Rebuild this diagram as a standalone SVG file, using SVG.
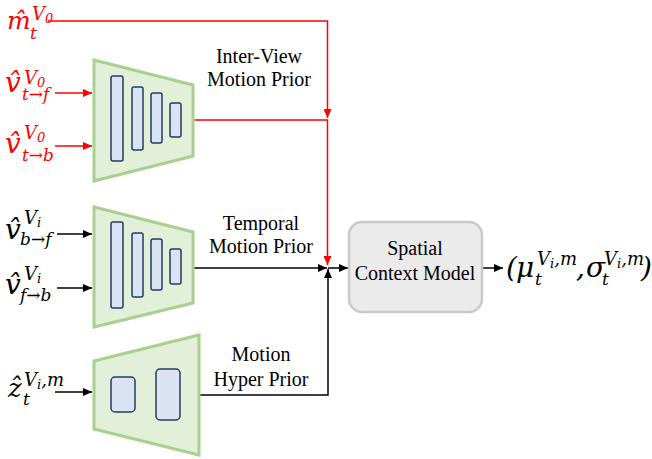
<svg xmlns="http://www.w3.org/2000/svg" width="652" height="459" viewBox="0 0 652 459">
<style>
.trap{fill:#e2efd9;stroke:#a9d08e;stroke-width:3;stroke-linejoin:miter}
.layer{fill:#dae3f3;stroke:#243b5e;stroke-width:1.5}
.lbl{font-family:"Liberation Serif","Times New Roman",serif;font-size:20px;fill:#000;text-anchor:middle}
.m{font-family:"DejaVu Serif",serif;font-style:italic}
.big{font-size:28px}
.sup{font-size:18px}
.sub{font-size:17px}
.tiny{font-size:13px}
.red{fill:#ff0000}
.blk{fill:#000}
.ln{fill:none;stroke-width:1.5}
.lr{stroke:#ff0000}
.lb{stroke:#000}
</style>
<defs>
<marker id="ab" markerUnits="userSpaceOnUse" markerWidth="9" markerHeight="8" refX="9" refY="4" orient="auto"><path d="M0,0 L9,4 L0,8 z" fill="#000"/></marker>
<marker id="ar" markerUnits="userSpaceOnUse" markerWidth="9" markerHeight="8" refX="9" refY="4" orient="auto"><path d="M0,0 L9,4 L0,8 z" fill="#ff0000"/></marker>
</defs>

<g id="connectors">
<path class="ln lr" d="M48,21 H327.5 V118" marker-end="url(#ar)"/>
<path class="ln lr" d="M193,120 H327.5 V265" marker-end="url(#ar)"/>
<path class="ln lr" d="M55,93 H92" marker-end="url(#ar)"/>
<path class="ln lr" d="M55,146 H92" marker-end="url(#ar)"/>
<path class="ln lb" d="M57,234 H92" marker-end="url(#ab)"/>
<path class="ln lb" d="M57,288 H92" marker-end="url(#ab)"/>
<path class="ln lb" d="M55,392 H92" marker-end="url(#ab)"/>
<path class="ln lb" d="M193,268 H327" marker-end="url(#ab)"/>
<path class="ln lb" d="M199,395 H328 V269" marker-end="url(#ab)"/>
<path class="ln lb" d="M328,268 H348" marker-end="url(#ab)"/>
<path class="ln lb" d="M482,268 H503" marker-end="url(#ab)"/>
</g>

<g id="inter-view-prior">
<polygon class="trap" points="94,60 193,85 193,156 94,181"/>
<rect class="layer" x="111" y="76" width="12" height="85" rx="2"/>
<rect class="layer" x="132" y="87" width="11" height="63" rx="2"/>
<rect class="layer" x="151" y="93" width="11" height="50" rx="2"/>
<rect class="layer" x="170" y="103" width="11" height="34" rx="2"/>
<text class="lbl" x="259" y="63">Inter-View</text>
<text class="lbl" x="259" y="86">Motion Prior</text>
</g>

<g id="temporal-prior">
<polygon class="trap" points="94,207 193,232 193,303 94,327"/>
<rect class="layer" x="111" y="222" width="12" height="86" rx="2"/>
<rect class="layer" x="132" y="233" width="11" height="64" rx="2"/>
<rect class="layer" x="151" y="239" width="11" height="51" rx="2"/>
<rect class="layer" x="170" y="249" width="11" height="35" rx="2"/>
<text class="lbl" x="261" y="230">Temporal</text>
<text class="lbl" x="261" y="253">Motion Prior</text>
</g>

<g id="hyper-prior">
<polygon class="trap" points="94,361 199,335 199,455 94,429"/>
<rect class="layer" x="111" y="377" width="24" height="35" rx="4"/>
<rect class="layer" x="156" y="369" width="24" height="51" rx="4"/>
<text class="lbl" x="261" y="361">Motion</text>
<text class="lbl" x="261" y="386">Hyper Prior</text>
</g>

<g id="spatial-context-model">
<rect x="349" y="222" width="133" height="90" rx="13" fill="#ebebeb" stroke="#c9c9c9" stroke-width="2.5"/>
<text class="lbl" x="415" y="255">Spatial</text>
<text class="lbl" x="415" y="280">Context Model</text>
</g>

<g id="input-m">
<text class="m red" font-size="25" x="7" y="29">m&#770;</text>
<text class="m sup red" x="32" y="20">V<tspan class="tiny" dy="3">0</tspan></text>
<text class="m sub red" x="30" y="39">t</text>
</g>
<g id="input-v-tf">
<text class="m big red" x="5" y="92">v&#770;</text>
<text class="m sup red" x="24" y="84">V<tspan class="tiny" dy="3">0</tspan></text>
<text class="m sub red" x="22" y="100">t→f</text>
</g>
<g id="input-v-tb">
<text class="m big red" x="5" y="153">v&#770;</text>
<text class="m sup red" x="24" y="139">V<tspan class="tiny" dy="3">0</tspan></text>
<text class="m sub red" x="22" y="161">t→b</text>
</g>
<g id="input-v-bf">
<text class="m big blk" x="5" y="239">v&#770;</text>
<text class="m sup blk" x="24" y="224">V<tspan class="tiny" dy="3">i</tspan></text>
<text class="m sub blk" x="20" y="245">b→f</text>
</g>
<g id="input-v-fb">
<text class="m big blk" x="5" y="294">v&#770;</text>
<text class="m sup blk" x="24" y="280">V<tspan class="tiny" dy="3">i</tspan></text>
<text class="m sub blk" x="20" y="301">f→b</text>
</g>
<g id="input-z">
<text class="m blk" font-size="26" x="8" y="397">z&#770;</text>
<text class="m sup blk" x="24" y="386">V<tspan class="tiny" dy="3">i</tspan><tspan dy="-3">,m</tspan></text>
<text class="m sub blk" x="23" y="405">t</text>
</g>
<g id="output">
<text class="m big blk" x="506" y="277">(</text>
<text class="m big blk" x="516" y="277">μ</text>
<text class="m sup blk" x="537" y="265">V<tspan class="tiny" dy="3">i</tspan><tspan dy="-3">,m</tspan></text>
<text class="m sub blk" x="535" y="285">t</text>
<text class="m big blk" x="576" y="277">,</text>
<text class="m big blk" x="586" y="277">σ</text>
<text class="m sup blk" x="604" y="265">V<tspan class="tiny" dy="3">i</tspan><tspan dy="-3">,m</tspan></text>
<text class="m sub blk" x="602" y="285">t</text>
<text class="m big blk" x="641" y="277">)</text>
</g>
</svg>
